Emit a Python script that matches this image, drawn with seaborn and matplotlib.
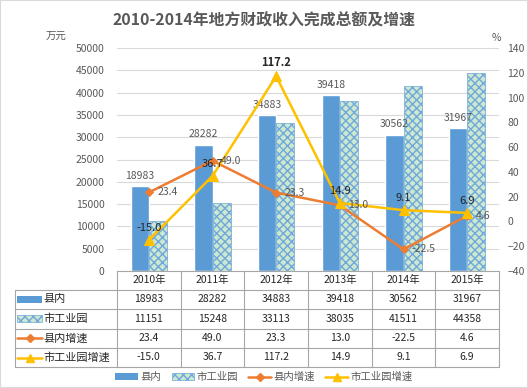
import matplotlib
matplotlib.use('Agg')
import matplotlib.pyplot as plt
import matplotlib.transforms as mtransforms
from matplotlib.lines import Line2D
from matplotlib.patches import Patch, Rectangle
import numpy as np
import pandas as pd
import seaborn as sns

years = ['2010年', '2011年', '2012年', '2013年', '2014年', '2015年']
county = [18983, 28282, 34883, 39418, 30562, 31967]
park = [11151, 15248, 33113, 38035, 41511, 44358]
county_growth = [23.4, 49.0, 23.3, 13.0, -22.5, 4.6]
park_growth = [-15.0, 36.7, 117.2, 14.9, 9.1, 6.9]
series_names = ['县内', '市工业园', '县内增速', '市工业园增速']
title = '2010-2014年地方财政收入完成总额及增速'

BLUE = '#5B9BD5'
PATTERN_BG = '#CDE8CF'
PATTERN_FG = '#6FA8DC'
ORANGE = '#ED7D31'
GOLD = '#FFC000'
TXT = '#595959'
GRID = '#D9D9D9'
TABLE_LINE = '#A6A6A6'

sns.set_theme(style='white')
plt.rcParams['font.family'] = ['Noto Sans CJK SC', 'DejaVu Sans']
plt.rcParams['hatch.linewidth'] = 1.0

W, H = 528, 388
fig = plt.figure(figsize=(W / 100, H / 100), dpi=100)


def fx(px):
    return px / W


def fy(py):
    return 1 - py / H


# plot area in pixel coordinates of the reference
left, right, top, bottom = 117, 499, 48, 271
ax = fig.add_axes([fx(left), fy(bottom), fx(right) - fx(left), fy(top) - fy(bottom)])

df = pd.DataFrame({
    'year': years * 2,
    'value': county + park,
    'series': [series_names[0]] * len(years) + [series_names[1]] * len(years),
})
sns.barplot(data=df, x='year', y='value', hue='series', palette=[BLUE, PATTERN_BG],
            width=0.57, saturation=1, ax=ax, legend=False)

for bar in ax.containers[1]:
    bar.set_hatch('xxxx')
    bar.set_edgecolor(PATTERN_FG)
    bar.set_linewidth(0.5)

ax.bar_label(ax.containers[0], labels=[str(v) for v in county], padding=4,
             fontsize=7.5, color=TXT)

ax.set_xlim(-0.5, len(years) - 0.5)
ax.set_ylim(0, 50000)
ax.set_yticks(range(0, 50001, 5000))
ax.set_xticks([])
ax.set_xlabel('')
ax.set_ylabel('')
ax.yaxis.grid(True, color=GRID, lw=0.8)
ax.set_axisbelow(True)
ax.tick_params(axis='y', length=0, pad=9, labelsize=7.5, labelcolor=TXT)
for s in ax.spines.values():
    s.set_visible(False)

# growth rates on the right axis
ax2 = ax.twinx()
pos = np.arange(len(years))
sns.lineplot(x=pos, y=county_growth, ax=ax2, color=ORANGE, lw=1.8, marker='D',
             markersize=4.5, markeredgecolor=ORANGE)
sns.lineplot(x=pos, y=park_growth, ax=ax2, color=GOLD, lw=1.8, marker='^',
             markersize=6.5, markeredgecolor=GOLD)
ax2.set_ylim(-40, 140)
ax2.set_yticks(range(-40, 141, 20))
ax2.set_ylabel('')
ax2.tick_params(axis='y', length=0, pad=6, labelsize=7.5, labelcolor=TXT)
for s in ax2.spines.values():
    s.set_visible(False)

for i, v in enumerate(county_growth):
    ax2.annotate(f'{v:.1f}', (i, v), xytext=(6, 0), textcoords='offset points',
                 ha='left', va='center', fontsize=7.5, color=TXT)
for i, v in enumerate(park_growth):
    ax2.annotate(f'{v:.1f}', (i, v), xytext=(0, 5), textcoords='offset points',
                 ha='center', va='bottom', fontsize=8, color='#262626',
                 weight='bold' if v == max(park_growth) else 'normal')

# data table under the plot
bt = mtransforms.blended_transform_factory(ax.transData, fig.transFigure)
row_y = [271, 289.5, 309, 328.5, 348, 367]
for x in np.arange(len(years) + 1) - 0.5:
    fig.add_artist(Line2D([x, x], [fy(row_y[0]), fy(row_y[-1])], transform=bt,
                          color=TABLE_LINE, lw=0.8))
fig.add_artist(Line2D([fx(15), fx(15)], [fy(row_y[1]), fy(row_y[-1])],
                      transform=fig.transFigure, color=TABLE_LINE, lw=0.8))
fig.add_artist(Line2D([fx(left), fx(right)], [fy(row_y[0])] * 2,
                      transform=fig.transFigure, color=TABLE_LINE, lw=0.8))
for y in row_y[1:]:
    fig.add_artist(Line2D([fx(15), fx(right)], [fy(y)] * 2,
                          transform=fig.transFigure, color=TABLE_LINE, lw=0.8))

rows = [years, county, park,
        [f'{v:.1f}' for v in county_growth], [f'{v:.1f}' for v in park_growth]]
for r, vals in enumerate(rows):
    yc = fy((row_y[r] + row_y[r + 1]) / 2)
    for i, v in enumerate(vals):
        fig.text(i, yc, str(v), transform=bt, ha='center', va='center',
                 fontsize=7.5, color='#262626')

# row headers with legend keys
for r, name in enumerate(series_names):
    yc = (row_y[r + 1] + row_y[r + 2]) / 2
    if r == 0:
        fig.add_artist(Rectangle((fx(17), fy(yc + 3.5)), fx(25), 7 / H,
                                 transform=fig.transFigure, facecolor=BLUE, lw=0))
    elif r == 1:
        fig.add_artist(Rectangle((fx(17), fy(yc + 3.5)), fx(25), 7 / H,
                                 transform=fig.transFigure, facecolor=PATTERN_BG,
                                 edgecolor=PATTERN_FG, hatch='xxxx', lw=0.5))
    else:
        c, m, ms = (ORANGE, 'D', 4) if r == 2 else (GOLD, '^', 5.5)
        fig.add_artist(Line2D([fx(17), fx(42)], [fy(yc)] * 2, transform=fig.transFigure,
                              color=c, lw=1.8))
        fig.add_artist(Line2D([fx(29.5)], [fy(yc)], transform=fig.transFigure,
                              color=c, marker=m, markersize=ms))
    fig.text(fx(43), fy(yc), name, ha='left', va='center', fontsize=8, color='#262626')

# legend
handles = [
    Patch(facecolor=BLUE, lw=0),
    Patch(facecolor=PATTERN_BG, edgecolor=PATTERN_FG, hatch='xxxx', lw=0.5),
    Line2D([], [], color=ORANGE, lw=1.8, marker='D', markersize=4),
    Line2D([], [], color=GOLD, lw=1.8, marker='^', markersize=5.5),
]
fig.legend(handles, series_names, loc='center', bbox_to_anchor=(0.5, fy(377)), ncol=4,
           frameon=False, fontsize=7.5, labelcolor=TXT, handlelength=2.2,
           handleheight=0.6, handletextpad=0.2, columnspacing=1.0)

fig.text(0.5, fy(20), title, ha='center', va='center', fontsize=11.4, weight='bold',
         color=TXT)
fig.text(fx(56), fy(37), '万元', ha='center', va='center', fontsize=7.5, color=TXT)
fig.text(fx(496), fy(38), '%', ha='center', va='center', fontsize=7.5, color=TXT)

fig.add_artist(Rectangle((0, 0), 1, 1, transform=fig.transFigure, fill=False,
                         edgecolor=GRID, lw=1.5))

fig.savefig('out.png', dpi=100)
